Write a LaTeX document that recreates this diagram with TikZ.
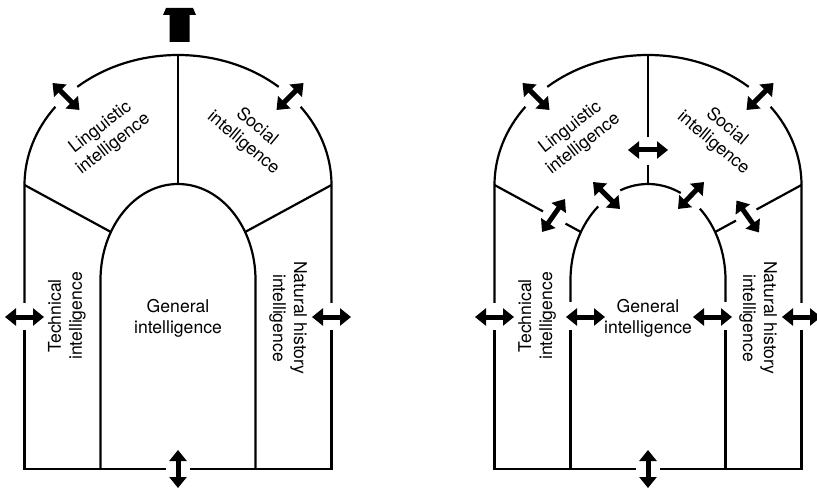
\documentclass[tikz,border=0pt]{standalone}
\usepackage{fontspec}
\setmainfont{TeX Gyre Heros}
\usetikzlibrary{arrows.meta}

\tikzset{
  wall/.style={line width=2.2pt, line cap=butt, line join=miter},
  dblarrow/.style={line width=5pt,
    {Triangle[length=11pt,width=17pt]}-{Triangle[length=11pt,width=17pt]}},
  lbl/.style={inner sep=0pt, align=center, font=\fontsize{17.6}{21}\selectfont},
}

% ellipse radii of the outer dome and the inner arch
\def\orx{153.5}\def\ory{130}\def\ocy{284}
\def\irx{77.5}\def\iry{96}\def\icy{189}

\begin{document}
\begin{tikzpicture}[x=1pt,y=1pt]
\useasboundingbox (0,0) rectangle (817,488);

% ---------------- left model ----------------
\begin{scope}[shift={(178,19)}]
  % outer dome and walls
  \draw[wall] (-\orx,166) -- (-\orx,\ocy)
    arc[start angle=180,end angle=143,x radius=\orx,y radius=\ory];
  \draw[wall] ({\orx*cos(131)},{\ocy+\ory*sin(131)})
    arc[start angle=131,end angle=49,x radius=\orx,y radius=\ory];
  \draw[wall] ({\orx*cos(37)},{\ocy+\ory*sin(37)})
    arc[start angle=37,end angle=0,x radius=\orx,y radius=\ory] -- (\orx,166);
  \draw[wall] (\orx,139) -- (\orx,0) -- (12,0);
  \draw[wall] (-12,0) -- (-\orx,0) -- (-\orx,139);
  % inner arch
  \draw[wall] (-\irx,0) -- (-\irx,\icy)
    arc[start angle=180,end angle=0,x radius=\irx,y radius=\iry] -- (\irx,0);
  % dividers
  \draw[wall] (0,285) -- (0,414);
  \draw[wall] (-\orx,\ocy) -- ({\irx*cos(150)},{\icy+\iry*sin(150)});
  \draw[wall] (\orx,\ocy) -- ({\irx*cos(30)},{\icy+\iry*sin(30)});
  % top block
  \fill (-8.5,427) -- (-8.5,454) -- (-15,454) -- (-12,461) -- (15,461)
    -- (18,454) -- (11.5,454) -- (11.5,427) -- cycle;
  % arrows
  \draw[dblarrow] (-125.5,386) -- (-98.5,359);
  \draw[dblarrow] (125.5,386) -- (98.5,359);
  \draw[dblarrow] (-173,152) -- (-134,152);
  \draw[dblarrow] (134,152) -- (173,152);
  \draw[dblarrow] (0,19) -- (0,-19);
  % labels
  \node[lbl, rotate=38]  (ling1) at (-71,333) {Linguistic\\intelligence};
  \node[lbl, rotate=-40] (soc1)  at (72,334) {Social\\intelligence};
  \node[lbl, rotate=90]  (tech1) at (-111,153) {Technical\\intelligence};
  \node[lbl, rotate=-90] (nat1)  at (110,151) {Natural history\\intelligence};
  \node[lbl]             (gen1)  at (0,151) {General\\intelligence};
\end{scope}

% ---------------- right model ----------------
\begin{scope}[shift={(648,19)}]
  % outer dome and walls
  \draw[wall] (-\orx,166) -- (-\orx,\ocy)
    arc[start angle=180,end angle=143,x radius=\orx,y radius=\ory];
  \draw[wall] ({\orx*cos(131)},{\ocy+\ory*sin(131)})
    arc[start angle=131,end angle=49,x radius=\orx,y radius=\ory];
  \draw[wall] ({\orx*cos(37)},{\ocy+\ory*sin(37)})
    arc[start angle=37,end angle=0,x radius=\orx,y radius=\ory] -- (\orx,166);
  \draw[wall] (\orx,139) -- (\orx,0) -- (12,0);
  \draw[wall] (-12,0) -- (-\orx,0) -- (-\orx,139);
  % inner arch, opened where the arrows pass
  \draw[wall] (-\irx,0) -- (-\irx,139);
  \draw[wall] (-\irx,167) -- (-\irx,\icy)
    arc[start angle=180,end angle=130,x radius=\irx,y radius=\iry];
  \draw[wall] ({\irx*cos(111)},{\icy+\iry*sin(111)})
    arc[start angle=111,end angle=65,x radius=\irx,y radius=\iry];
  \draw[wall] ({\irx*cos(48)},{\icy+\iry*sin(48)})
    arc[start angle=48,end angle=0,x radius=\irx,y radius=\iry] -- (\irx,167);
  \draw[wall] (\irx,139) -- (\irx,0);
  % dividers with openings
  \draw[wall] (0,414) -- (0,332);
  \draw[wall] (0,304) -- (0,285);
  \draw[wall] (-\orx,\ocy) -- (-105,257.6);
  \draw[wall] (-82.5,245.4) -- ({\irx*cos(150)},{\icy+\iry*sin(150)});
  \draw[wall] (\orx,\ocy) -- (108.5,259.5);
  \draw[wall] (88,248.4) -- ({\irx*cos(30)},{\icy+\iry*sin(30)});
  % arrows
  \draw[dblarrow] (-125.5,386) -- (-98.5,359);
  \draw[dblarrow] (125.5,386) -- (98.5,359);
  \draw[dblarrow] (-173,152) -- (-134,152);
  \draw[dblarrow] (134,152) -- (173,152);
  \draw[dblarrow] (0,19) -- (0,-19);
  \draw[dblarrow] (-20,319) -- (20,319);
  \draw[dblarrow] (-55,287) -- (-28,260);
  \draw[dblarrow] (56,287) -- (30,260);
  \draw[dblarrow] (-106,237) -- (-83,270);
  \draw[dblarrow] (88.5,268.5) -- (111,236.5);
  \draw[dblarrow] (-82,152) -- (-43,152);
  \draw[dblarrow] (45,152) -- (84,152);
  % labels
  \node[lbl, rotate=38]  (ling2) at (-71,333) {Linguistic\\intelligence};
  \node[lbl, rotate=-40] (soc2)  at (72,334) {Social\\intelligence};
  \node[lbl, rotate=90]  (tech2) at (-111,153) {Technical\\intelligence};
  \node[lbl, rotate=-90] (nat2)  at (110,151) {Natural history\\intelligence};
  \node[lbl]             (gen2)  at (0,151) {General\\intelligence};
\end{scope}
\end{tikzpicture}
\end{document}
